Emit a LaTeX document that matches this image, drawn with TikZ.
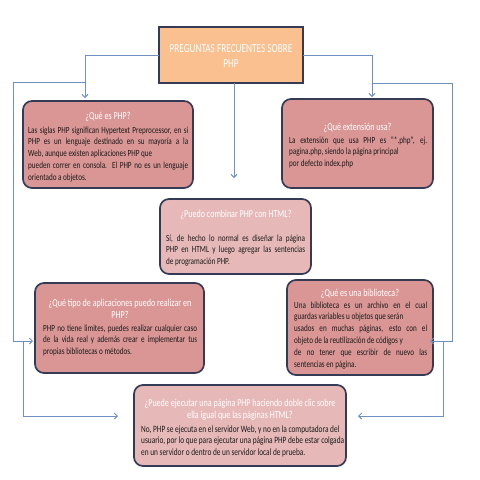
\documentclass[tikz,border=0pt]{standalone}
\usepackage{fontspec}
\setmainfont{Carlito}[FakeStretch=0.76]
\usetikzlibrary{arrows.meta}
\definecolor{peach}{HTML}{FAC090}
\definecolor{rose}{HTML}{D99694}
\definecolor{lrose}{HTML}{E6B9B8}
\definecolor{edgec}{HTML}{363B55}
\definecolor{connc}{HTML}{7190C2}
\definecolor{txt}{HTML}{1A1A1A}
\newcommand{\jl}[1]{\makebox[\hsize][s]{#1}}
\newcommand{\rl}[1]{\mbox{#1}}
\tikzset{
  qbox/.style={draw=edgec, line width=1.7pt, rounded corners=9pt, fill=rose, anchor=north west, inner sep=0pt, outer sep=0pt},
  lqbox/.style={qbox, fill=lrose},
  hbox/.style={draw=edgec, line width=1.7pt, fill=peach, anchor=north west, inner sep=0pt, outer sep=0pt},
  ttl/.style={text=white, font=\fontsize{10.6}{12.6}\selectfont, align=center, inner sep=0pt, anchor=north},
  htl/.style={text=white, font=\fontsize{12.2}{15}\selectfont, align=center, inner sep=0pt, anchor=north},
  body/.style={text=txt, font=\fontsize{9.4}{11.8}\selectfont, align=flush left, inner sep=0pt, anchor=north west},
  bigbody/.style={body, font=\fontsize{9.65}{11.8}\selectfont},
  conn/.style={draw=connc, line width=0.9pt},
  arr/.style={conn, -{Straight Barb[length=3pt,width=6pt]}},
}
\begin{document}
\begin{tikzpicture}[x=1pt,y=-1pt]
\fill[white] (0,0) rectangle (480,480);
\useasboundingbox (0,0) rectangle (480,480);

% boxes
\node[hbox, minimum width=144pt, minimum height=56pt] (hd) at (159,27) {};
\node[qbox, minimum width=170pt, minimum height=87pt] (qA) at (23,101) {};
\node[qbox, minimum width=151pt, minimum height=89pt] (qB) at (282,99) {};
\node[lqbox, minimum width=151pt, minimum height=75pt] (qC) at (160,199) {};
\node[qbox, minimum width=169pt, minimum height=90pt] (qD) at (35,283) {};
\node[qbox, minimum width=146pt, minimum height=95pt] (qE) at (287,280) {};
\node[lqbox, minimum width=212pt, minimum height=81pt] (qF) at (134,385) {};

% header text
\node[htl] (hdt) at (231,42) {\strut PREGUNTAS FRECUENTES SOBRE\\PHP};

% box A
\node[ttl] (tA) at (108,110.2) {\strut ¿Qué es PHP?};
\node[body, text width=160pt] (bA) at (28,124.7) {\noindent\strut\jl{Las siglas PHP significan Hypertext Preprocessor, en si}\\
\jl{PHP es un lenguaje destinado en su mayoría a la}\\
\rl{Web, aunque existen aplicaciones PHP que}\\
\jl{pueden correr en consola. El PHP no es un lenguaje}\\
\rl{orientado a objetos.}};

% box B
\node[ttl] (tB) at (357.5,121.2) {\strut ¿Qué extensión usa?};
\node[body, text width=138pt] (bB) at (289,134.7) {\noindent\strut\jl{La extensión que usa PHP es “*.php”, ej.}\\
\rl{pagina.php, siendo la página principal}\\
\rl{por defecto index.php}};

% box C
\node[ttl] (tC) at (236,208.2) {\strut ¿Puedo combinar PHP con HTML?};
\node[body, text width=139pt] (bC) at (166,232.7) {\noindent\strut\jl{Sí, de hecho lo normal es diseñar la página}\\
\jl{PHP en HTML y luego agregar las sentencias}\\
\rl{de programación PHP.}};

% box D
\node[ttl] (tD) at (120,297.2) {\strut ¿Qué tipo de aplicaciones puedo realizar en\\PHP?};
\node[body, text width=154pt] (bD) at (43,322.7) {\noindent\strut\jl{PHP no tiene limites, puedes realizar cualquier caso}\\
\jl{de la vida real y además crear e implementar tus}\\
\rl{propias bibliotecas o métodos.}};

% box E
\node[ttl] (tE) at (360,287.2) {\strut ¿Qué es una biblioteca?};
\node[body, text width=133pt] (bE) at (294,299.7) {\noindent\strut\jl{Una biblioteca es un archivo en el cual}\\
\rl{guardas variables u objetos que serán}\\
\jl{usados en muchas páginas, esto con el}\\
\rl{objeto de la reutilización de códigos y}\\
\jl{de no tener que escribir de nuevo las}\\
\rl{sentencias en página.}};

% box F
\node[ttl] (tF) at (240,397.2) {\strut ¿Puede ejecutar una página PHP haciendo doble clic sobre\\ella igual que las páginas HTML?};
\node[bigbody, text width=200pt] (bF) at (141,423.7) {\noindent\strut\rl{No, PHP se ejecuta en el servidor Web, y no en la computadora del}\\
\rl{usuario, por lo que para ejecutar una página PHP debe estar colgada}\\
\rl{en un servidor o dentro de un servidor local de prueba.}};

% connector coordinates
\coordinate (jL) at (85,82);
\coordinate (kL) at (23,341);
\coordinate (mL) at (23,416);
\coordinate (jR) at (372,83);
\coordinate (kR) at (443,341);
\coordinate (mR) at (443,416);
\coordinate (cx) at (234,0);
\coordinate (xl) at (13,0);
\coordinate (xr) at (452,0);

% connectors
\draw[arr, shorten >=3pt] (hd.west) -| (qA.north -| jL);
\draw[arr, shorten >=2pt] (hd.east) -| (qB.north -| jR);
\draw[arr, shorten >=21pt] (hd.south -| cx) -- (qC.north -| cx);
\draw[arr, shorten >=2pt] (jL) -- (jL -| xl) |- (qD.west |- kL);
\draw[arr, shorten >=16pt] (kL) |- (qF.west |- mL);
\draw[arr, shorten >=-3pt] (jR) -- (jR -| xr) |- (qE.east |- kR);
\draw[arr, shorten >=12pt] (kR) |- (qF.east |- mR);
\end{tikzpicture}
\end{document}
